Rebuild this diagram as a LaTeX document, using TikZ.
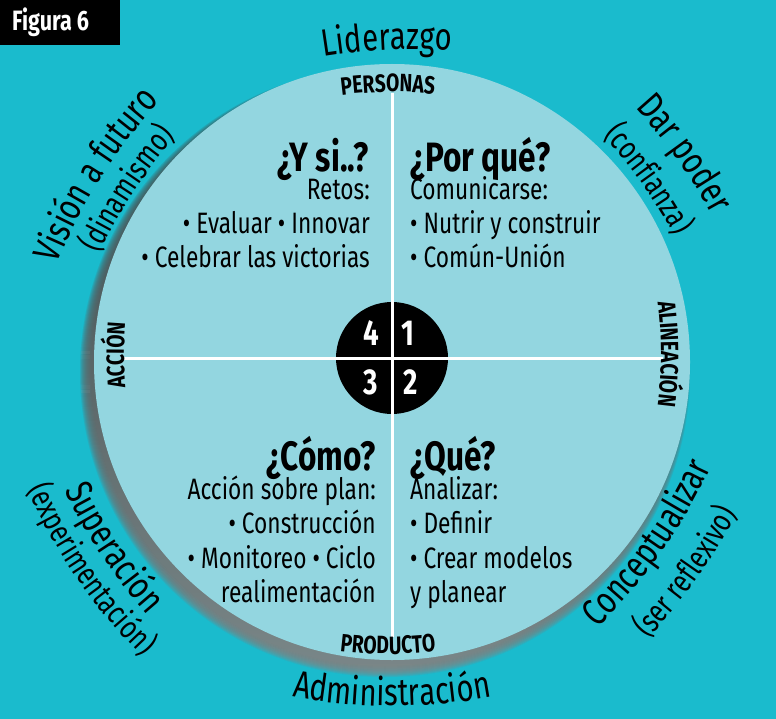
\documentclass[tikz,border=0pt]{standalone}
\usepackage{fontspec}
\setmainfont{Fira Sans}[FakeStretch=0.77]
\usetikzlibrary{decorations.text}
\definecolor{bgteal}{HTML}{1ABBCD}
\definecolor{disc}{HTML}{93D6E0}
\definecolor{shade}{HTML}{0B5560}
\newcommand\fsz[1]{\fontsize{#1}{#1}\selectfont}
\newcommand\fa{\fontsize{38}{38}\selectfont}
\newcommand\fb{\fontsize{32}{32}\selectfont}
\newcommand\fc{\bfseries\fontsize{25}{25}\selectfont}
\newcommand\arctext[6]{%
  \pgfmathsetmacro\arcA{#2-(#4)}%
  \pgfmathsetmacro\arcB{#2+(#4)}%
  \path #1 ++({#2+180}:#3) ++(\arcA:#3) coordinate (arcS);
  \path[decorate,decoration={text along path,text align=center,text={|#5|#6}}]
    (arcS) arc[start angle=\arcA,end angle=\arcB,radius=#3];
}
\tikzset{
  qtxt/.style={inner sep=0pt, font=\fsz{29.5}},
  qhead/.style={inner sep=0pt, font=\bfseries\fsz{41}},
  numtxt/.style={inner sep=0pt, text=white, font=\bfseries\fsz{36}},
  crossline/.style={draw=white, line width=3pt}
}
\begin{document}
\begin{tikzpicture}[x=1pt,y=-1pt]
\useasboundingbox (0,0) rectangle (776,719);
\fill[bgteal] (0,0) rectangle (776,719);
% shadow
\foreach \k in {0,...,11}{
  \fill[shade, opacity=0.1] (385,372) circle[radius={305-\k}];
}
% disc
\fill[disc] (392,362) circle[radius=298];
% centre
\fill[black] (392,358) circle[radius=56];
\coordinate (ctop) at (392,93);
\coordinate (cbot) at (392,637);
\coordinate (cleft) at (123,358);
\coordinate (cright) at (663,358);
\draw[crossline] (ctop) -- (cbot);
\draw[crossline] (cleft) -- (cright);
\node[numtxt] (n4) at (371,333) {4};
\node[numtxt] (n1) at (408,333) {1};
\node[numtxt] (n3) at (371,382) {3};
\node[numtxt] (n2) at (411,382) {2};
% figure tag
\fill[black] (0,0) rectangle (120,45);
\node[anchor=base west, text=white, font=\bfseries\fsz{28}, inner sep=0pt] (fig) at (12,31) {Figura 6};
% quadrant 4
\node[qhead, anchor=base east] (q4h) at (369,172) {¿Y si..?};
\node[qtxt, anchor=base east] (q4a) at (370,200) {Retos:};
\node[qtxt, anchor=base east] (q4b) at (370,234) {• Evaluar • Innovar};
\node[qtxt, anchor=base east] (q4c) at (370,268) {• Celebrar las victorias};
% quadrant 1
\node[qhead, anchor=base west] (q1h) at (410,172) {¿Por qué?};
\node[qtxt, anchor=base west] (q1a) at (410,200) {Comunicarse:};
\node[qtxt, anchor=base west] (q1b) at (410,234) {• Nutrir y construir};
\node[qtxt, anchor=base west] (q1c) at (410,268) {• Común-Unión};
% quadrant 3
\node[qhead, anchor=base east] (q3h) at (376,470) {¿Cómo?};
\node[qtxt, anchor=base east] (q3a) at (376,499) {Acción sobre plan:};
\node[qtxt, anchor=base east] (q3b) at (376,533) {• Construcción};
\node[qtxt, anchor=base east] (q3c) at (376,568) {• Monitoreo • Ciclo};
\node[qtxt, anchor=base east] (q3d) at (376,602) {realimentación};
% quadrant 2
\node[qhead, anchor=base west] (q2h) at (410,470) {¿Qué?};
\node[qtxt, anchor=base west] (q2a) at (410,499) {Analizar:};
\node[qtxt, anchor=base west] (q2b) at (410,533) {• Definir};
\node[qtxt, anchor=base west] (q2c) at (410,568) {• Crear modelos};
\node[qtxt, anchor=base west] (q2d) at (410,602) {y planear};
% inner labels
\arctext{(388,92)}{-90.7}{400}{15}{\fc}{PERSONAS}
\arctext{(388,654)}{90}{400}{-15}{\fc}{PRODUCTO}
\arctext{(124,355)}{180}{400}{15}{\fc}{ACCIÓN}
\arctext{(661,354)}{0}{400}{15}{\fc}{ALINEACIÓN}
% outer labels
\arctext{(387,50)}{-92.5}{550}{18}{\fa}{Liderazgo}
\arctext{(101.2,178.2)}{-147.7}{550}{18}{\fa}{Visión a futuro}
\arctext{(133.5,192.8)}{-146.8}{550}{18}{\fb}{(dinamismo)}
\arctext{(676.9,158.8)}{-35.5}{550}{18}{\fa}{Dar poder}
\arctext{(642,183.8)}{-35.5}{550}{18}{\fb}{(confianza)}
\arctext{(661.3,552.7)}{35.3}{550}{-18}{\fa}{Conceptualizar}
\arctext{(696.8,579.4)}{35.5}{550}{-18}{\fb}{(ser reflexivo)}
\arctext{(101.6,555.6)}{146.3}{550}{-18}{\fa}{Superación}
\arctext{(77.2,578.4)}{145.5}{550}{-18}{\fb}{(experimentación)}
\arctext{(392,706)}{90}{550}{-18}{\fa}{Administración}
\end{tikzpicture}
\end{document}
